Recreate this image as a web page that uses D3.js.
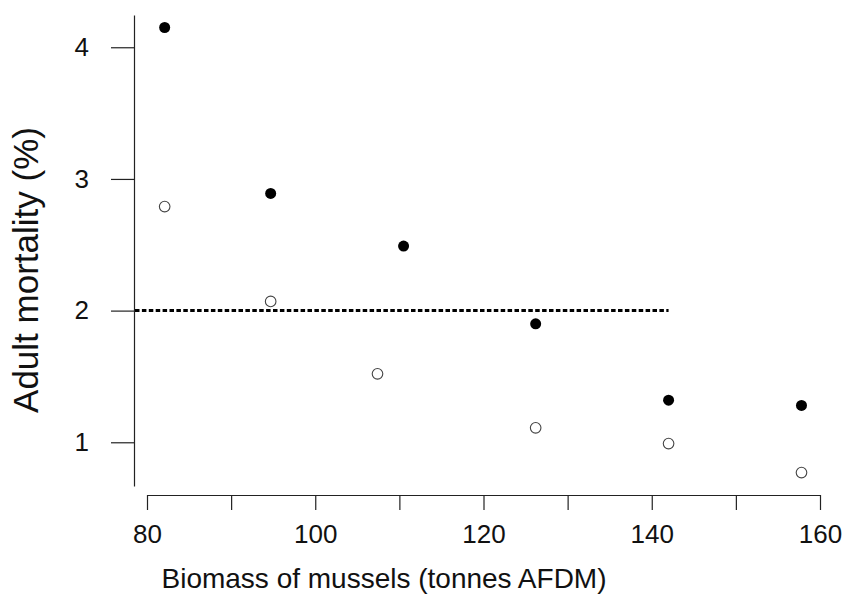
<!DOCTYPE html>
<html>
<head>
<meta charset="utf-8">
<script src="https://cdn.jsdelivr.net/npm/d3@7"></script>
<style>
  body { margin: 0; background: #fff; }
  svg { display: block; font-family: Arial, "Liberation Sans", sans-serif; }
</style>
</head>
<body>
<svg width="846" height="615"></svg>
<script>
// values
var biomassFilled = [82.1, 94.7, 110.5, 126.2, 142.0, 157.8];
var mortalityFilled = [4.15, 2.89, 2.49, 1.90, 1.32, 1.28];
var biomassOpen = [82.1, 94.7, 107.4, 126.2, 142.0, 157.8];
var mortalityOpen = [2.79, 2.07, 1.52, 1.11, 0.99, 0.77];
var xTicks = [80, 90, 100, 110, 120, 130, 140, 150, 160];
var xLabels = [80, 100, 120, 140, 160];
var yTicks = [1, 2, 3, 4];
var refLevel = 2;
var refEnd = 142;

var svg = d3.select("svg");

var x = d3.scaleLinear().domain([80, 160]).range([147, 820]);
var y = d3.scaleLinear().domain([0.668, 4.245]).range([486, 15]);

// y axis
var yAxis = svg.append("g")
  .attr("transform", "translate(134,0)")
  .call(d3.axisLeft(y).tickValues(yTicks).tickFormat(d3.format("d"))
    .tickSize(23).tickSizeOuter(0).tickPadding(22));
yAxis.select(".domain").attr("stroke", "#222").attr("stroke-width", 1.2);
yAxis.selectAll(".tick line").attr("stroke", "#222").attr("stroke-width", 1.2);
yAxis.selectAll(".tick text").attr("font-size", 26).attr("fill", "#111")
  .attr("font-family", "Arial, 'Liberation Sans', sans-serif");

// x axis
var xAxis = svg.append("g")
  .attr("transform", "translate(0,495)")
  .call(d3.axisBottom(x).tickValues(xTicks).tickSize(15).tickSizeOuter(0)
    .tickFormat(function (d) { return xLabels.indexOf(d) >= 0 ? d : ""; }).tickPadding(15));
xAxis.select(".domain").attr("stroke", "#222").attr("stroke-width", 1.2);
xAxis.selectAll(".tick line").attr("stroke", "#222").attr("stroke-width", 1.2);
xAxis.selectAll(".tick text").attr("font-size", 26).attr("fill", "#111")
  .attr("font-family", "Arial, 'Liberation Sans', sans-serif");

// dashed reference line
svg.append("line")
  .attr("x1", 135).attr("x2", x(refEnd))
  .attr("y1", y(refLevel)).attr("y2", y(refLevel))
  .attr("stroke", "#000").attr("stroke-width", 3)
  .attr("stroke-dasharray", "4.5,2.4");

// filled points
svg.selectAll("circle.filled")
  .data(biomassFilled)
  .enter().append("circle")
  .attr("class", "filled")
  .attr("cx", function (d) { return x(d); })
  .attr("cy", function (d, i) { return y(mortalityFilled[i]); })
  .attr("r", 5.5)
  .attr("fill", "#000");

// open points
svg.selectAll("circle.open")
  .data(biomassOpen)
  .enter().append("circle")
  .attr("class", "open")
  .attr("cx", function (d) { return x(d); })
  .attr("cy", function (d, i) { return y(mortalityOpen[i]); })
  .attr("r", 5.3)
  .attr("fill", "#fff")
  .attr("stroke", "#444")
  .attr("stroke-width", 1.1);

// axis titles
svg.append("text")
  .attr("x", 384).attr("y", 588)
  .attr("text-anchor", "middle")
  .attr("font-size", 28)
  .attr("fill", "#111")
  .text("Biomass of mussels (tonnes AFDM)");

svg.append("text")
  .attr("transform", "translate(38,270) rotate(-90)")
  .attr("text-anchor", "middle")
  .attr("font-size", 35)
  .attr("fill", "#111")
  .text("Adult mortality (%)");
</script>
</body>
</html>
